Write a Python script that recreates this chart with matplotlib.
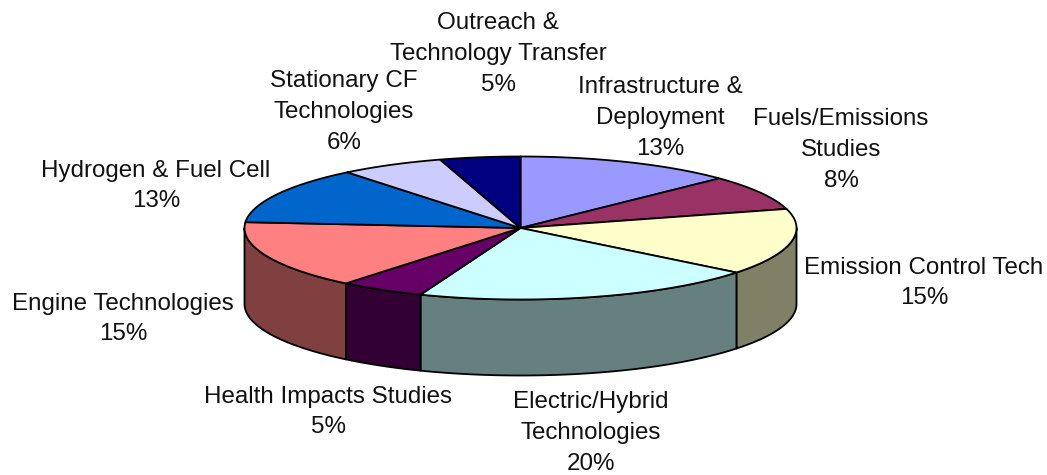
import numpy as np
import matplotlib
matplotlib.use("Agg")
import matplotlib.pyplot as plt
from matplotlib.colors import to_rgb

categories = ["Infrastructure &\nDeployment", "Fuels/Emissions\nStudies", "Emission Control Tech",
              "Electric/Hybrid\nTechnologies", "Health Impacts Studies", "Engine Technologies",
              "Hydrogen & Fuel Cell", "Stationary CF\nTechnologies", "Outreach &\nTechnology Transfer"]
values = [12.8, 7.9, 15.0, 20.2, 5.0, 15.4, 12.9, 6.1, 4.7]
colors = ["#9999FF", "#993366", "#FFFFCC", "#CCFFFF", "#660066", "#FF8080", "#0066CC", "#CCCCFF", "#000080"]
label_xy = [(660, 118), (841, 150), (924, 283), (591, 433), (328, 412), (123, 319), (156, 186), (344, 112), (498, 54)]

CX, CY, RX, RY, DEPTH = 520.5, 228, 276, 71.5, 76

plt.rcParams['font.family'] = ['Liberation Sans', 'DejaVu Sans']
fig = plt.figure(figsize=(10.47, 4.75), dpi=100)
ax = fig.add_axes([0, 0, 1, 1])
ax.set_xlim(0, 1047)
ax.set_ylim(475, 0)
ax.axis('off')


def pt(theta, dy=0):
    return CX + RX * np.sin(theta), CY - RY * np.cos(theta) + dy


cum = np.cumsum([0] + values) / sum(values) * 2 * np.pi
edge = dict(edgecolor='black', linewidth=1.3, joinstyle='round')

# side walls: only the front half of the rim (pi/2 .. 3pi/2 clockwise from top)
for i, col in enumerate(colors):
    a, b = max(cum[i], np.pi / 2), min(cum[i + 1], 3 * np.pi / 2)
    if a >= b:
        continue
    t = np.linspace(a, b, 120)
    x, y = pt(t)
    xb, yb = pt(t[::-1], DEPTH)
    side = tuple(c * 0.5 for c in to_rgb(col))
    ax.fill(np.r_[x, xb], np.r_[y, yb], facecolor=side, zorder=2, **edge)

# top faces
for i, col in enumerate(colors):
    t = np.linspace(cum[i], cum[i + 1], 200)
    x, y = pt(t)
    ax.fill(np.r_[CX, x], np.r_[CY, y], facecolor=col, zorder=3, **edge)

for name, val, (lx, ly) in zip(categories, values, label_xy):
    ax.text(lx, ly, f"{name}\n{round(val)}%", ha='center', va='center', fontsize=17.4,
            color='#111111', linespacing=1.52, zorder=5)

fig.savefig("out.png", dpi=100, facecolor='white')
